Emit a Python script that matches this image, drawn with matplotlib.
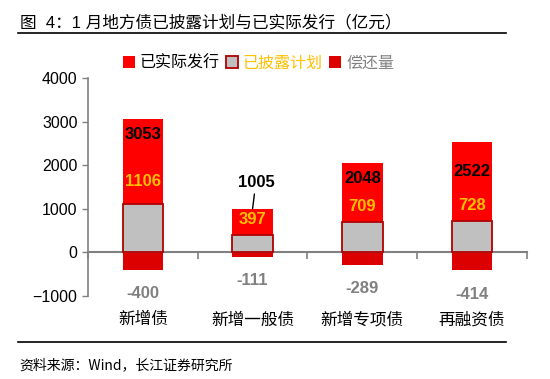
import matplotlib
matplotlib.use("Agg")
import matplotlib.pyplot as plt
from matplotlib.lines import Line2D
from matplotlib.patches import Patch
from matplotlib.transforms import blended_transform_factory

plt.rcParams["font.family"] = ["Liberation Sans", "Noto Sans CJK SC", "DejaVu Sans"]

categories = ["新增债", "新增一般债", "新增专项债", "再融资债"]
actual = [3053, 1005, 2048, 2522]
plan = [1106, 397, 709, 728]
repay = [-400, -111, -289, -414]

# label offsets (points) from bar ends
actual_off = [-11, 0, -11, -21]
plan_off = [16, 14, 11, 11]

RED = "#FF0000"
GRAY = "#C0C0C0"
EDGE = "#B00000"
DARK = "#DC0000"
GOLD = "#FFC000"
AXIS = "#808080"
CJK = ["Noto Sans CJK SC", "DejaVu Sans"]

fig = plt.figure(figsize=(5.5, 3.79), dpi=100)
ax = fig.add_axes([0.16, 0.219, 0.798, 0.575])

x = list(range(len(categories)))
w = 0.37
ax.bar(x, actual, width=w, color=RED, zorder=2)
ax.bar(x, repay, width=w, color=DARK, zorder=2)
ax.bar(x, plan, width=w, color=GRAY, edgecolor=EDGE, linewidth=1.3, zorder=3)

ax.set_xlim(-0.5, 3.5)
ax.set_ylim(-1000, 4000)
ax.set_yticks(range(-1000, 4001, 1000))
ax.tick_params(axis="y", colors=AXIS, labelcolor="black", labelsize=11.5, length=4, width=1)

# x axis sits on zero, ticks mark category boundaries
ax.spines["bottom"].set_position(("data", 0))
ax.spines["bottom"].set_color(AXIS)
ax.spines["bottom"].set_linewidth(1.5)
ax.spines["left"].set_color(AXIS)
ax.spines["left"].set_linewidth(1.2)
ax.spines["top"].set_visible(False)
ax.spines["right"].set_visible(False)
ax.set_xticks([-0.5, 0.5, 1.5, 2.5, 3.5])
ax.set_xticklabels([])
ax.tick_params(axis="x", colors=AXIS, length=5, width=1.2, direction="out")

cat_tr = blended_transform_factory(ax.transData, fig.transFigure)
for i, cat in enumerate(categories):
    ax.text(i, 0.156, cat, transform=cat_tr, ha="center", va="center",
            fontsize=12, family=CJK)

for i in x:
    if i == 1:
        ax.annotate(str(actual[i]), (i, actual[i]), xytext=(i + 0.03, actual[i] + 430),
                    textcoords="data", ha="center", va="bottom", fontsize=12,
                    fontweight="bold", color="black",
                    arrowprops=dict(arrowstyle="-", color="black", lw=1,
                                    shrinkA=1, shrinkB=0))
        ax.annotate(str(plan[i]), (i, actual[i]), xytext=(0, -8),
                    textcoords="offset points", ha="center", va="center",
                    fontsize=12, fontweight="bold", color=GOLD)
    else:
        ax.annotate(str(actual[i]), (i, actual[i]), xytext=(0, actual_off[i]),
                    textcoords="offset points", ha="center", va="center",
                    fontsize=12, fontweight="bold", color="black")
        ax.annotate(str(plan[i]), (i, plan[i]), xytext=(0, plan_off[i]),
                    textcoords="offset points", ha="center", va="center",
                    fontsize=12, fontweight="bold", color=GOLD)
    ax.annotate(str(repay[i]), (i, repay[i]), xytext=(0, -17),
                textcoords="offset points", ha="center", va="center",
                fontsize=12, fontweight="bold", color=AXIS)

handles = [Patch(facecolor=RED), Patch(facecolor=GRAY, edgecolor=EDGE, linewidth=1.3),
           Patch(facecolor=DARK)]
leg = fig.legend(handles, ["已实际发行", "已披露计划", "偿还量"], loc="center",
                 bbox_to_anchor=(0.47, 0.833), ncol=3, frameon=False,
                 handlelength=0.75, handleheight=0.75, handletextpad=0.3,
                 columnspacing=0.4, prop={"family": CJK, "size": 11.5})
for t, c in zip(leg.get_texts(), ["black", GOLD, AXIS]):
    t.set_color(c)

fig.text(0.036, 0.942, "图  4：1 月地方债已披露计划与已实际发行（亿元）", fontsize=12,
         family=["Liberation Sans", "Noto Sans CJK SC"], va="center", ha="left")
fig.add_artist(Line2D([0.033, 0.92], [0.913, 0.913], color="black", lw=1.2))
fig.add_artist(Line2D([0.033, 0.92], [0.098, 0.098], color="black", lw=1.2))
fig.text(0.036, 0.037, "资料来源：Wind，长江证券研究所", fontsize=10, family=CJK,
         va="center", ha="left")

fig.savefig("out.png", dpi=100, facecolor="white")
